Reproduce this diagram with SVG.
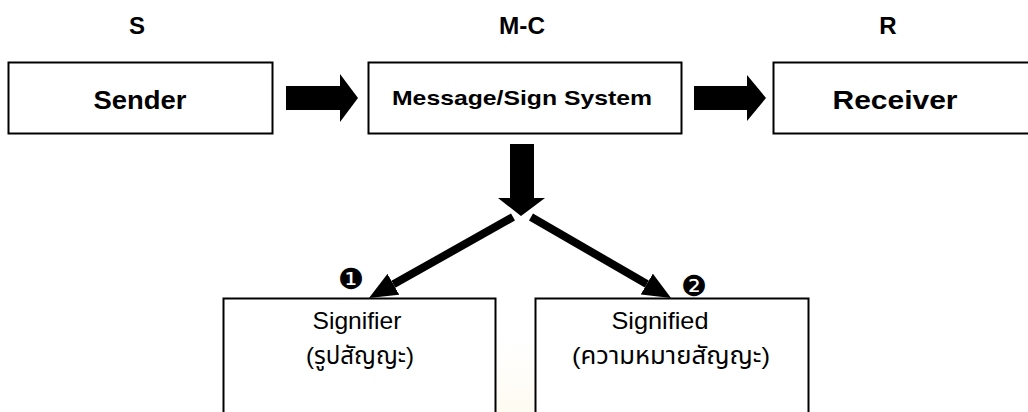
<svg xmlns="http://www.w3.org/2000/svg" width="1028" height="412" viewBox="0 0 1028 412">
  <style>
    .box { fill: #ffffff; stroke: #000000; stroke-width: 2; }
    .bold { font-family: "Liberation Sans", Arial, sans-serif; font-weight: bold; fill: #000; text-anchor: middle; }
    .reg { font-family: "Liberation Sans", "Noto Sans Thai", "DejaVu Sans", sans-serif; fill: #000; text-anchor: middle; }
    .num { font-family: "DejaVu Sans", sans-serif; fill: #000; text-anchor: middle; }
    .block { fill: #000000; }
    .link { stroke: #000000; stroke-width: 8; fill: none; marker-end: url(#head); }
  </style>
  <defs>
    <marker id="head" viewBox="0 0 28 24" markerUnits="userSpaceOnUse" markerWidth="28" markerHeight="24" refX="0" refY="12" orient="auto">
      <path d="M0,0 L28,12 L0,24 z" fill="#000"/>
    </marker>
    <radialGradient id="glow" cx="0.5" cy="1" r="0.8">
      <stop offset="0" stop-color="#f7dc8a" stop-opacity="0.35"/>
      <stop offset="1" stop-color="#f7dc8a" stop-opacity="0"/>
    </radialGradient>
  </defs>

  <rect width="1028" height="412" fill="#ffffff"/>

  <!-- column headings -->
  <text class="bold" x="137" y="34" font-size="24">S</text>
  <text class="bold" x="522" y="34" font-size="24" textLength="46" lengthAdjust="spacingAndGlyphs">M-C</text>
  <text class="bold" x="888" y="34" font-size="24">R</text>

  <g id="sender">
    <rect class="box" x="8.5" y="62.5" width="264" height="71"/>
    <text class="bold" x="140" y="109" font-size="25" textLength="93" lengthAdjust="spacingAndGlyphs">Sender</text>
  </g>

  <g id="message">
    <rect class="box" x="368.5" y="62.5" width="313" height="71"/>
    <text class="bold" x="522" y="105" font-size="21" textLength="260" lengthAdjust="spacingAndGlyphs">Message/Sign System</text>
  </g>

  <g id="receiver">
    <rect class="box" x="773.5" y="62.5" width="270" height="71"/>
    <text class="bold" x="895" y="109" font-size="25" textLength="125" lengthAdjust="spacingAndGlyphs">Receiver</text>
  </g>

  <!-- faint emblem behind the lower boxes -->
  <ellipse cx="515" cy="420" rx="200" ry="130" fill="url(#glow)"/>

  <g id="signifier">
    <rect class="box" x="223.5" y="298.5" width="272" height="130"/>
    <text class="reg" x="357" y="329" font-size="24" textLength="89" lengthAdjust="spacingAndGlyphs">Signifier</text>
    <text class="reg" x="360" y="364" font-size="24" textLength="108" lengthAdjust="spacingAndGlyphs">(รูปสัญญะ)</text>
  </g>

  <g id="signified">
    <rect class="box" x="535.5" y="298.5" width="273" height="130"/>
    <text class="reg" x="660" y="329" font-size="24" textLength="97" lengthAdjust="spacingAndGlyphs">Signified</text>
    <text class="reg" x="671" y="364" font-size="24" textLength="198" lengthAdjust="spacingAndGlyphs">(ความหมายสัญญะ)</text>
  </g>

  <g id="connectors">
    <polygon class="block" points="286,86 340,86 340,74 358,98 340,122 340,110 286,110"/>
    <polygon class="block" points="694,86 747,86 747,75 766,98 747,121 747,110 694,110"/>
    <polygon class="block" points="510,144 534,144 534,198 545,198 521,216 498,198 510,198"/>
    <line class="link" x1="513" y1="217" x2="393.4" y2="284.3"/>
    <line class="link" x1="531" y1="217" x2="646.8" y2="284"/>
  </g>

  <text class="num" x="351" y="289" font-size="29">❶</text>
  <text class="num" x="694" y="296" font-size="29">❷</text>
</svg>
